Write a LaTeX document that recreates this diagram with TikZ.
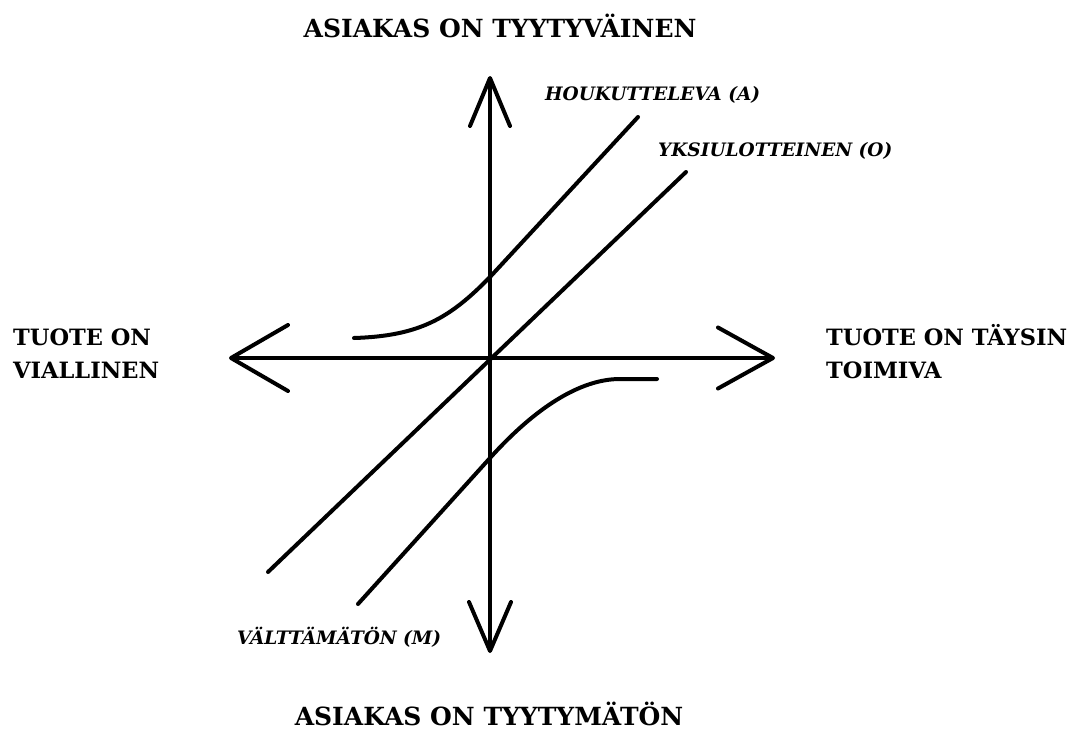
\documentclass[tikz,border=0pt]{standalone}
\usepackage{fontspec}
\setmainfont{DejaVu Serif}
\usetikzlibrary{arrows.meta}
\begin{document}
\begin{tikzpicture}[x=1pt,y=-1pt,
  axis/.style={line width=4pt, line cap=round},
  curve/.style={line width=4pt, line cap=round, line join=round},
  title/.style={font=\bfseries\fontsize{25}{30}\selectfont, inner sep=0pt},
  side/.style={font=\bfseries\fontsize{22.5}{30}\selectfont, inner sep=0pt},
  tag/.style={font=\bfseries\itshape\fontsize{18.5}{22}\selectfont, inner sep=0pt}]
\useasboundingbox (0,0) rectangle (1084,731);
% axes
\coordinate (O) at (490,358);
\coordinate (L) at (229,358);
\coordinate (R) at (775,358);
\coordinate (T) at (490,76);
\coordinate (B) at (490,653);
\draw[axis, {Straight Barb[length=57pt,width=66pt,round]}-{Straight Barb[length=55pt,width=61pt,round]}] (L) -- (R);
\draw[axis, {Straight Barb[length=48pt,width=40pt,round]}-{Straight Barb[length=49pt,width=42pt,round]}] (T) -- (B);
% curves
\coordinate (a0) at (354,338);
\coordinate (a1) at (490,277);
\coordinate (a2) at (638,117);
\draw[curve] (a0) .. controls (420,336) and (450,318) .. (a1) -- (a2);
\coordinate (o0) at (268,572);
\coordinate (o1) at (686,172);
\draw[curve] (o0) -- (o1);
\coordinate (m0) at (358,604);
\coordinate (m1) at (490,458);
\coordinate (m2) at (620,379);
\coordinate (m3) at (657,379);
\draw[curve] (m0) -- (m1) .. controls (535,408) and (580,379) .. (m2) -- (m3);
% labels
\node[title, anchor=base] (top) at (500,37) {ASIAKAS ON TYYTYVÄINEN};
\node[title, anchor=base] (bot) at (489,725) {ASIAKAS ON TYYTYMÄTÖN};
\node[side, anchor=base west] (left1) at (13,345) {TUOTE ON};
\node[side, anchor=base west] (left2) at (13,378) {VIALLINEN};
\node[side, anchor=base west] (right1) at (826,345) {TUOTE ON TÄYSIN};
\node[side, anchor=base west] (right2) at (826,378) {TOIMIVA};
\node[tag, anchor=base west] (A) at (545,100) {HOUKUTTELEVA (A)};
\node[tag, anchor=base west] (Olab) at (658,156) {YKSIULOTTEINEN (O)};
\node[tag, anchor=base west] (M) at (237,644) {VÄLTTÄMÄTÖN (M)};
\end{tikzpicture}
\end{document}
